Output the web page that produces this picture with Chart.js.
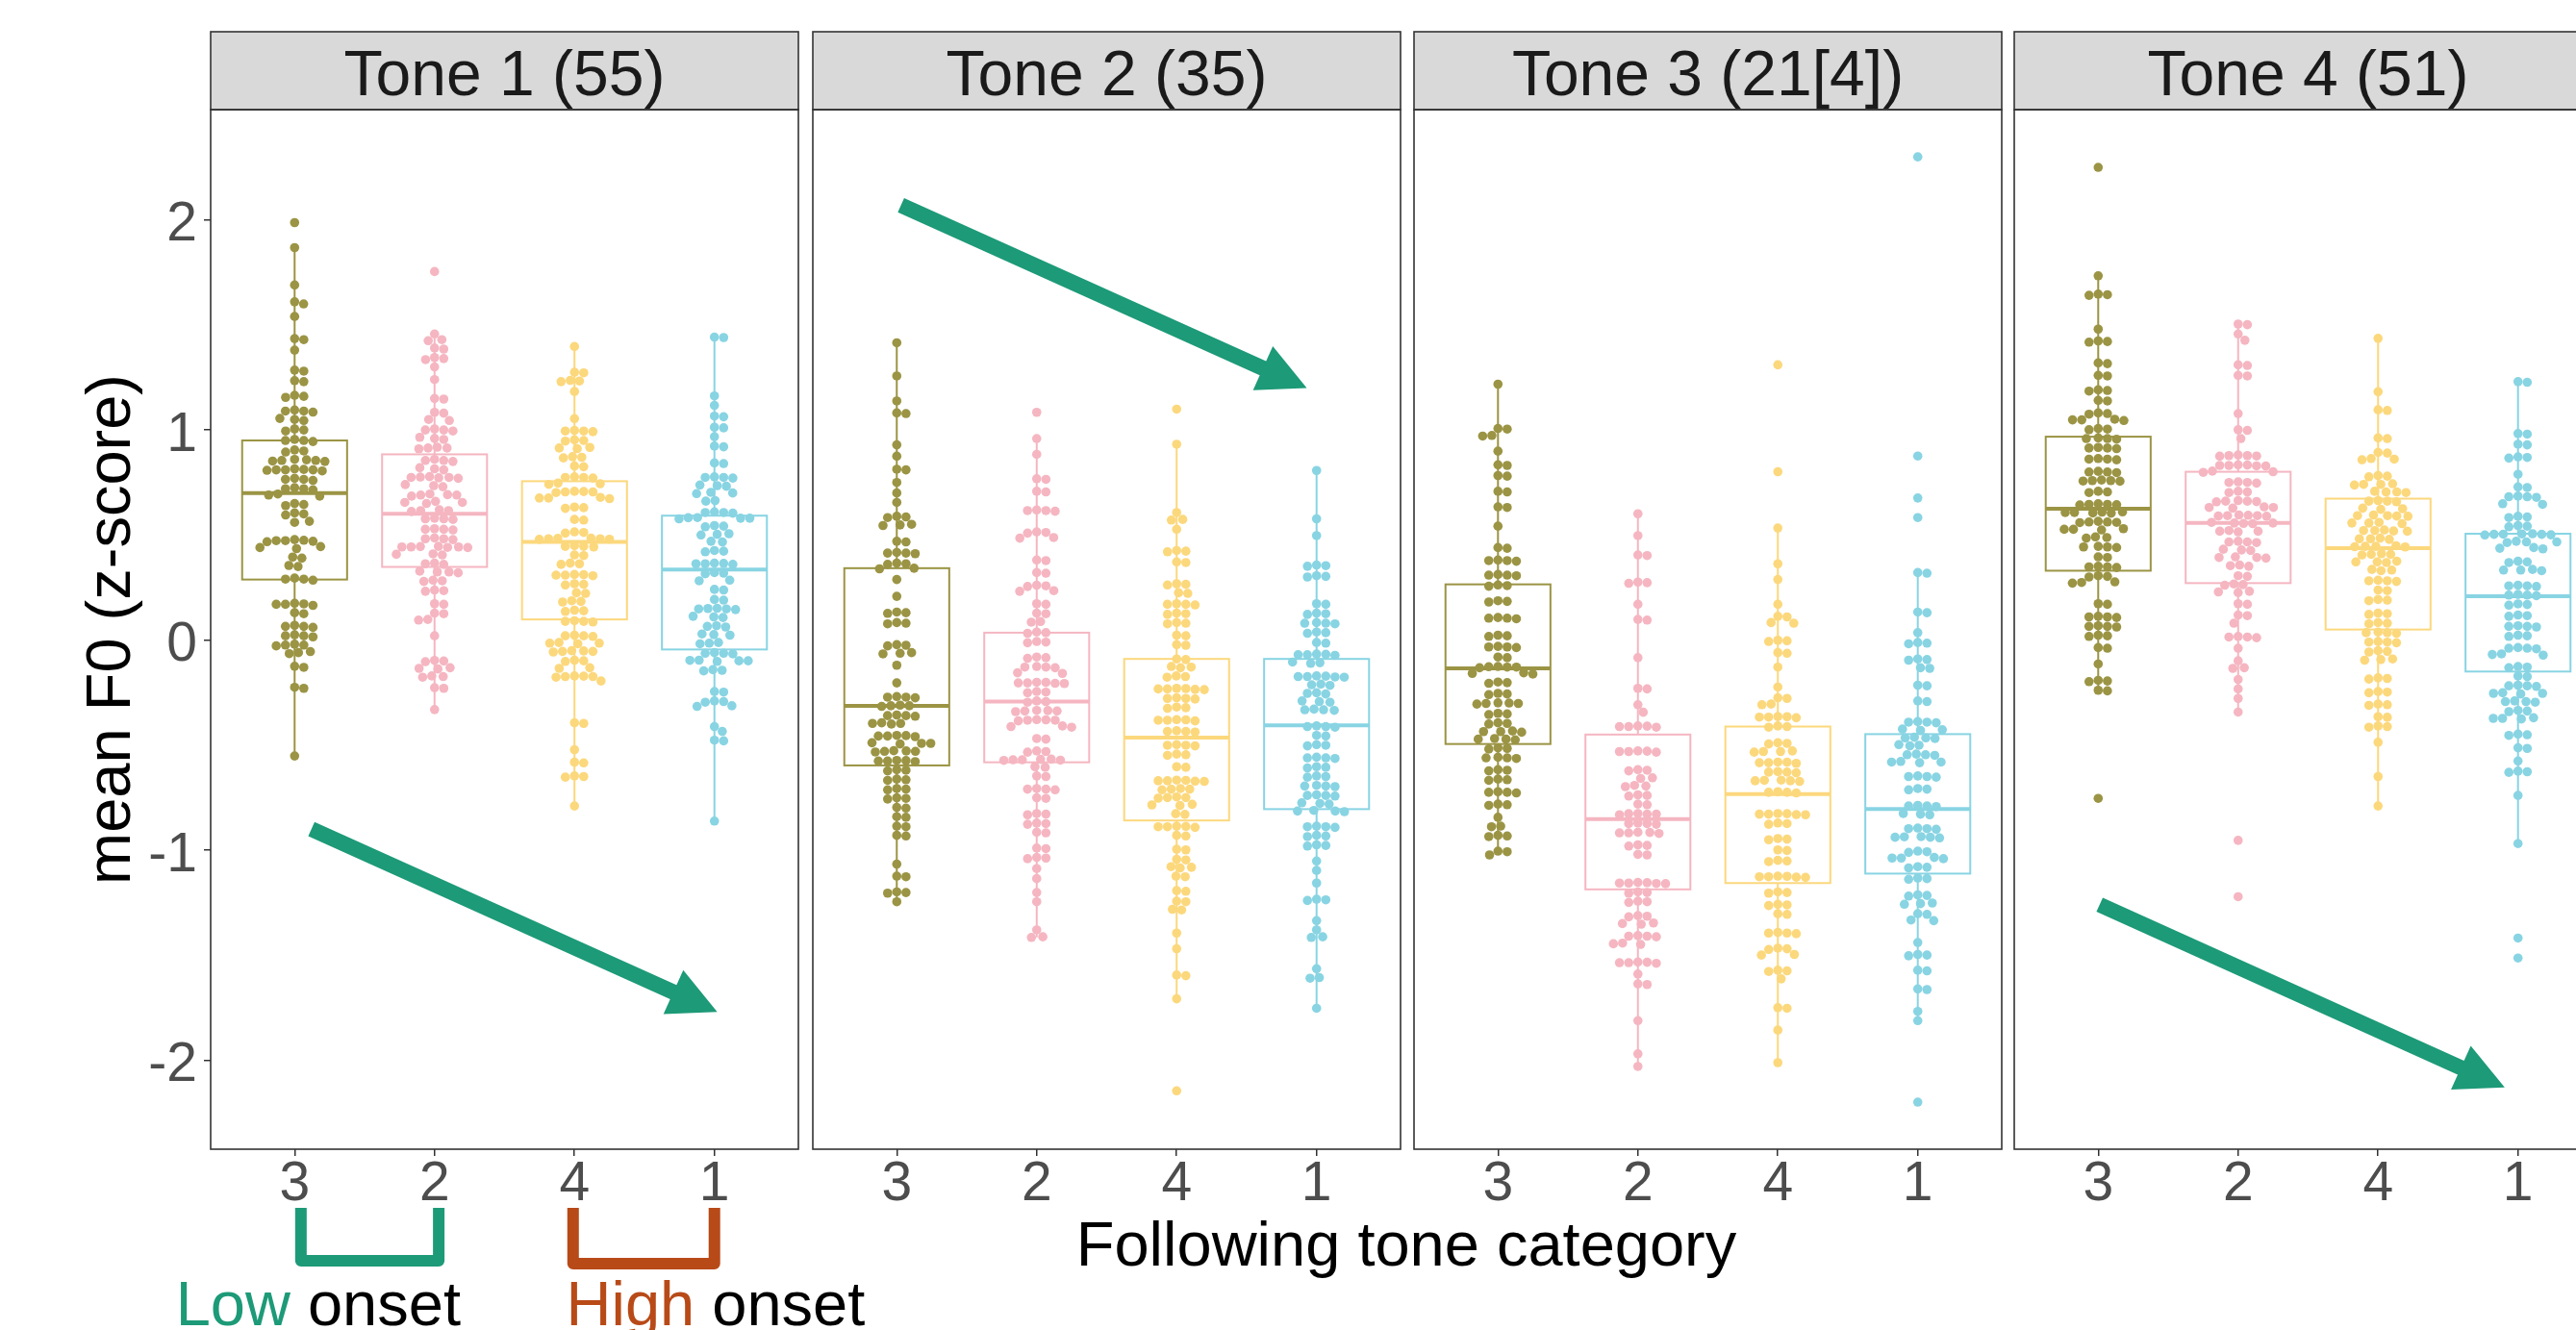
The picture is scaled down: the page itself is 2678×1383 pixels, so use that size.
<!DOCTYPE html>
<html><head><meta charset="utf-8">
<script src="https://cdn.jsdelivr.net/npm/chart.js@4/dist/chart.umd.min.js"></script>
<style>
html,body{margin:0;padding:0;background:#fff;overflow:hidden;width:2678px;height:1383px;}
#wrap{position:relative;width:2678px;height:1383px;overflow:hidden;background:#fff;}
#wrap canvas{position:absolute;left:0;top:0;}
</style></head><body><div id="wrap">
<canvas id="c0" width="2760" height="1383"></canvas>
<canvas id="c1" width="2760" height="1383"></canvas>
<canvas id="c2" width="2760" height="1383"></canvas>
<canvas id="c3" width="2760" height="1383"></canvas>
</div>
<script>
// ---------------- DATA ----------------
const followingTones = ['3', '2', '4', '1'];
const toneTitles = ['Tone 1 (55)', 'Tone 2 (35)', 'Tone 3 (21[4])', 'Tone 4 (51)'];
const yTicks = [-2, -1, 0, 1, 2];

// Tone 1 panel: mean F0 (z-score) by following tone 3, 2, 4, 1
const tone1_f3 = [1.987,1.868,1.69,1.60,1.61,1.54,1.43,1.435,1.38,1.28,1.285,1.23,1.235,1.16,1.165,1.155,1.09,1.095,1.085,1.09,1.05,1.055,1.045,1.00,1.005,0.995,0.95,0.955,0.945,0.95,0.90,0.905,0.895,0.855,0.86,0.85,0.855,0.858,0.852,0.81,0.815,0.805,0.81,0.812,0.808,0.81,0.765,0.77,0.76,0.765,0.72,0.725,0.715,0.72,0.69,0.695,0.685,0.645,0.65,0.64,0.60,0.605,0.595,0.56,0.565,0.473,0.478,0.468,0.473,0.475,0.47,0.44,0.445,0.435,0.39,0.395,0.35,0.355,0.29,0.295,0.285,0.29,0.17,0.175,0.165,0.17,0.172,0.125,0.13,0.065,0.07,0.06,0.065,0.02,0.025,0.015,0.02,-0.024,-0.02,-0.028,-0.024,-0.06,-0.055,-0.065,-0.13,-0.125,-0.23,-0.225,-0.552];
const tone1_f2 = [1.754,1.457,1.43,1.425,1.39,1.385,1.34,1.345,1.335,1.30,1.24,1.147,1.15,1.084,1.08,1.05,1.045,1.0,1.005,0.995,1.0,0.96,0.965,0.955,0.914,0.918,0.91,0.914,0.855,0.86,0.85,0.855,0.815,0.82,0.81,0.774,0.778,0.77,0.774,0.776,0.772,0.735,0.74,0.73,0.69,0.695,0.685,0.69,0.692,0.655,0.66,0.65,0.655,0.616,0.62,0.612,0.616,0.577,0.58,0.574,0.577,0.527,0.53,0.524,0.527,0.482,0.486,0.478,0.482,0.443,0.446,0.44,0.443,0.445,0.441,0.443,0.408,0.41,0.405,0.363,0.366,0.36,0.324,0.328,0.32,0.324,0.282,0.285,0.279,0.235,0.238,0.232,0.17,0.173,0.125,0.128,0.095,0.098,0.02,-0.10,-0.097,-0.103,-0.135,-0.132,-0.138,-0.174,-0.171,-0.177,-0.23,-0.227,-0.331];
const tone1_f4 = [1.397,1.272,1.275,1.233,1.236,1.23,1.183,1.054,0.995,0.998,0.992,0.995,0.95,0.953,0.947,0.914,0.917,0.911,0.87,0.873,0.867,0.825,0.828,0.774,0.777,0.771,0.774,0.744,0.747,0.741,0.705,0.708,0.702,0.705,0.707,0.676,0.679,0.673,0.676,0.63,0.633,0.627,0.571,0.574,0.512,0.515,0.509,0.482,0.485,0.479,0.482,0.484,0.48,0.446,0.449,0.443,0.446,0.402,0.405,0.363,0.366,0.36,0.309,0.312,0.306,0.309,0.311,0.265,0.268,0.262,0.222,0.225,0.184,0.187,0.181,0.139,0.142,0.136,0.089,0.092,0.086,0.089,0.02,0.023,0.017,0.02,-0.015,-0.012,-0.018,-0.015,-0.054,-0.051,-0.057,-0.054,-0.052,-0.099,-0.096,-0.102,-0.135,-0.132,-0.174,-0.171,-0.177,-0.174,-0.172,-0.195,-0.397,-0.394,-0.522,-0.585,-0.582,-0.65,-0.647,-0.653,-0.79];
const tone1_f1 = [1.442,1.44,1.162,1.117,1.063,1.066,1.01,1.013,0.968,0.92,0.923,0.84,0.843,0.774,0.777,0.771,0.774,0.735,0.738,0.732,0.70,0.703,0.697,0.661,0.664,0.607,0.61,0.604,0.607,0.58,0.583,0.577,0.58,0.582,0.542,0.545,0.539,0.503,0.506,0.5,0.467,0.47,0.423,0.426,0.42,0.363,0.366,0.36,0.363,0.365,0.318,0.321,0.315,0.282,0.285,0.238,0.241,0.19,0.193,0.148,0.151,0.145,0.148,0.15,0.11,0.113,0.107,0.065,0.068,0.062,0.026,0.029,0.023,-0.015,-0.012,-0.018,-0.063,-0.06,-0.066,-0.063,-0.099,-0.096,-0.102,-0.099,-0.097,-0.144,-0.141,-0.147,-0.248,-0.245,-0.293,-0.29,-0.296,-0.313,-0.316,-0.412,-0.435,-0.48,-0.477,-0.862];

// Tone 2 panel
const tone2_f3 = [1.415,1.257,1.138,1.078,1.081,0.929,0.875,0.81,0.813,0.75,0.70,0.655,0.586,0.589,0.583,0.548,0.551,0.545,0.467,0.47,0.414,0.417,0.411,0.414,0.363,0.366,0.36,0.342,0.339,0.288,0.208,0.13,0.133,0.127,0.08,0.083,0.077,-0.025,-0.022,-0.028,-0.063,-0.06,-0.066,-0.12,-0.204,-0.272,-0.269,-0.275,-0.272,-0.313,-0.31,-0.316,-0.313,-0.36,-0.357,-0.363,-0.36,-0.397,-0.394,-0.4,-0.397,-0.457,-0.454,-0.46,-0.457,-0.455,-0.492,-0.489,-0.495,-0.492,-0.53,-0.527,-0.533,-0.53,-0.528,-0.576,-0.573,-0.579,-0.576,-0.574,-0.62,-0.617,-0.623,-0.665,-0.662,-0.668,-0.71,-0.707,-0.713,-0.754,-0.751,-0.757,-0.80,-0.797,-0.844,-0.841,-0.889,-0.886,-0.933,-0.93,-1.067,-1.127,-1.124,-1.202,-1.199,-1.205,-1.246];
const tone2_f2 = [1.084,0.959,0.884,0.765,0.768,0.705,0.708,0.616,0.619,0.613,0.616,0.512,0.515,0.509,0.488,0.485,0.378,0.381,0.318,0.321,0.258,0.261,0.255,0.235,0.232,0.17,0.173,0.125,0.128,0.085,0.088,0.035,0.038,0.032,-0.01,-0.007,-0.013,-0.084,-0.081,-0.087,-0.129,-0.126,-0.132,-0.129,-0.159,-0.156,-0.204,-0.201,-0.207,-0.204,-0.202,-0.206,-0.248,-0.245,-0.251,-0.293,-0.29,-0.296,-0.338,-0.335,-0.341,-0.338,-0.336,-0.382,-0.379,-0.385,-0.382,-0.38,-0.412,-0.409,-0.415,-0.472,-0.469,-0.531,-0.528,-0.534,-0.57,-0.567,-0.573,-0.57,-0.568,-0.572,-0.606,-0.603,-0.65,-0.647,-0.71,-0.707,-0.713,-0.71,-0.754,-0.751,-0.829,-0.826,-0.832,-0.874,-0.871,-0.877,-0.918,-0.915,-0.993,-0.99,-1.038,-1.035,-1.041,-1.088,-1.136,-1.202,-1.246,-1.38,-1.416,-1.413];
const tone2_f4 = [1.099,0.932,0.607,0.571,0.574,0.527,0.423,0.426,0.42,0.369,0.372,0.265,0.268,0.262,0.222,0.225,0.17,0.173,0.167,0.17,0.125,0.128,0.122,0.08,0.083,0.077,0.02,0.023,-0.025,-0.022,-0.093,-0.09,-0.129,-0.126,-0.132,-0.174,-0.171,-0.177,-0.233,-0.23,-0.236,-0.233,-0.231,-0.235,-0.278,-0.275,-0.281,-0.278,-0.322,-0.319,-0.325,-0.382,-0.379,-0.385,-0.382,-0.38,-0.435,-0.432,-0.438,-0.435,-0.501,-0.498,-0.504,-0.501,-0.546,-0.543,-0.549,-0.606,-0.603,-0.67,-0.667,-0.673,-0.67,-0.668,-0.672,-0.71,-0.707,-0.713,-0.71,-0.75,-0.747,-0.753,-0.75,-0.785,-0.782,-0.788,-0.83,-0.827,-0.889,-0.886,-0.892,-0.889,-0.887,-0.933,-0.93,-0.999,-0.996,-1.047,-1.044,-1.082,-1.079,-1.085,-1.127,-1.124,-1.196,-1.193,-1.246,-1.243,-1.285,-1.282,-1.395,-1.47,-1.598,-1.595,-1.708,-2.146];
const tone2_f1 = [0.807,0.577,0.497,0.354,0.357,0.351,0.303,0.306,0.3,0.17,0.173,0.125,0.128,0.122,0.08,0.083,0.077,0.08,0.035,0.038,0.032,-0.015,-0.012,-0.07,-0.067,-0.073,-0.07,-0.068,-0.108,-0.105,-0.111,-0.174,-0.171,-0.177,-0.174,-0.172,-0.176,-0.213,-0.21,-0.216,-0.254,-0.251,-0.257,-0.293,-0.29,-0.296,-0.332,-0.329,-0.335,-0.332,-0.412,-0.409,-0.415,-0.412,-0.457,-0.454,-0.501,-0.498,-0.504,-0.561,-0.558,-0.564,-0.561,-0.606,-0.603,-0.609,-0.65,-0.647,-0.653,-0.695,-0.692,-0.698,-0.695,-0.74,-0.737,-0.743,-0.74,-0.778,-0.775,-0.781,-0.814,-0.811,-0.817,-0.814,-0.889,-0.886,-0.892,-0.889,-0.933,-0.93,-0.936,-0.978,-0.975,-0.981,-1.052,-1.097,-1.157,-1.237,-1.234,-1.24,-1.336,-1.38,-1.416,-1.413,-1.565,-1.61,-1.607,-1.753];

// Tone 3 panel
const tone3_f3 = [1.218,1.004,1.007,0.974,0.971,0.899,0.831,0.834,0.78,0.783,0.705,0.708,0.631,0.634,0.542,0.437,0.44,0.378,0.381,0.375,0.378,0.309,0.312,0.306,0.309,0.259,0.262,0.256,0.184,0.187,0.181,0.104,0.107,0.101,0.104,0.02,0.023,0.017,-0.033,-0.03,-0.036,-0.033,-0.084,-0.081,-0.129,-0.126,-0.132,-0.129,-0.127,-0.159,-0.156,-0.162,-0.203,-0.2,-0.206,-0.257,-0.254,-0.26,-0.302,-0.299,-0.305,-0.302,-0.3,-0.352,-0.349,-0.355,-0.397,-0.394,-0.4,-0.436,-0.433,-0.439,-0.436,-0.472,-0.469,-0.475,-0.472,-0.516,-0.513,-0.519,-0.561,-0.558,-0.564,-0.561,-0.62,-0.617,-0.623,-0.665,-0.662,-0.668,-0.725,-0.722,-0.728,-0.725,-0.784,-0.781,-0.787,-0.844,-0.889,-0.886,-0.933,-0.93,-0.936,-1.008,-1.005,-1.023];
const tone3_f2 = [0.601,0.497,0.402,0.405,0.273,0.276,0.27,0.17,0.095,0.098,-0.084,-0.233,-0.23,-0.308,-0.344,-0.412,-0.409,-0.415,-0.412,-0.41,-0.531,-0.528,-0.534,-0.531,-0.529,-0.62,-0.617,-0.623,-0.659,-0.656,-0.695,-0.692,-0.698,-0.74,-0.737,-0.743,-0.784,-0.781,-0.829,-0.826,-0.832,-0.829,-0.827,-0.874,-0.871,-0.877,-0.874,-0.918,-0.915,-0.921,-0.918,-0.916,-0.978,-0.975,-0.981,-1.023,-1.02,-1.157,-1.154,-1.16,-1.157,-1.155,-1.159,-1.202,-1.199,-1.205,-1.246,-1.243,-1.249,-1.315,-1.312,-1.318,-1.35,-1.347,-1.353,-1.41,-1.407,-1.413,-1.41,-1.446,-1.443,-1.449,-1.536,-1.533,-1.539,-1.536,-1.534,-1.59,-1.64,-1.637,-1.812,-1.97,-2.03];
const tone3_f4 = [1.31,0.801,0.533,0.363,0.288,0.17,0.11,0.113,0.08,0.083,-0.004,-0.001,-0.007,-0.063,-0.06,-0.129,-0.224,-0.278,-0.275,-0.308,-0.305,-0.367,-0.364,-0.37,-0.367,-0.365,-0.412,-0.409,-0.415,-0.492,-0.489,-0.495,-0.531,-0.528,-0.534,-0.531,-0.584,-0.581,-0.587,-0.584,-0.582,-0.629,-0.626,-0.632,-0.629,-0.67,-0.667,-0.673,-0.67,-0.668,-0.725,-0.722,-0.728,-0.725,-0.829,-0.826,-0.832,-0.829,-0.827,-0.831,-0.874,-0.871,-0.877,-0.948,-0.945,-0.951,-1.002,-0.999,-1.052,-1.049,-1.055,-1.127,-1.124,-1.13,-1.127,-1.125,-1.129,-1.202,-1.199,-1.205,-1.261,-1.258,-1.264,-1.306,-1.303,-1.395,-1.392,-1.398,-1.395,-1.47,-1.467,-1.473,-1.5,-1.497,-1.575,-1.572,-1.578,-1.613,-1.753,-1.75,-1.857,-2.012];
const tone3_f1 = [2.30,0.876,0.676,0.583,0.318,0.321,0.13,0.133,0.035,-0.015,-0.012,-0.018,-0.093,-0.09,-0.096,-0.135,-0.132,-0.218,-0.215,-0.293,-0.29,-0.391,-0.388,-0.394,-0.391,-0.427,-0.424,-0.43,-0.466,-0.463,-0.469,-0.466,-0.501,-0.498,-0.504,-0.546,-0.543,-0.549,-0.546,-0.581,-0.578,-0.584,-0.581,-0.65,-0.647,-0.653,-0.65,-0.71,-0.707,-0.713,-0.79,-0.787,-0.793,-0.79,-0.829,-0.826,-0.832,-0.898,-0.895,-0.901,-0.898,-0.939,-0.936,-0.942,-0.939,-0.937,-1.008,-1.005,-1.011,-1.038,-1.035,-1.041,-1.038,-1.082,-1.079,-1.085,-1.136,-1.133,-1.139,-1.216,-1.213,-1.219,-1.255,-1.252,-1.258,-1.306,-1.303,-1.336,-1.333,-1.44,-1.5,-1.497,-1.503,-1.575,-1.572,-1.664,-1.661,-1.768,-1.812,-2.2];

// Tone 4 panel
const tone4_f3 = [2.25,1.734,1.644,1.647,1.641,1.48,1.421,1.424,1.418,1.316,1.319,1.257,1.26,1.188,1.191,1.185,1.138,1.141,1.078,1.081,1.075,1.048,1.051,1.045,1.048,1.004,1.007,1.001,0.959,0.962,0.956,0.959,0.914,0.917,0.911,0.914,0.861,0.864,0.858,0.861,0.8,0.803,0.797,0.8,0.759,0.762,0.756,0.759,0.757,0.705,0.708,0.702,0.646,0.649,0.643,0.646,0.644,0.607,0.61,0.604,0.607,0.605,0.609,0.562,0.565,0.559,0.562,0.56,0.527,0.53,0.524,0.527,0.488,0.491,0.485,0.443,0.446,0.44,0.443,0.393,0.396,0.348,0.351,0.345,0.348,0.303,0.306,0.3,0.274,0.277,0.271,0.17,0.173,0.11,0.113,0.107,0.11,0.065,0.068,0.062,0.065,0.02,0.023,0.017,-0.039,-0.036,-0.114,-0.195,-0.192,-0.198,-0.242,-0.239,-0.754];
const tone4_f2 = [1.501,1.504,1.457,1.427,1.307,1.31,1.257,1.26,1.078,0.998,1.001,0.959,0.878,0.881,0.875,0.878,0.876,0.831,0.834,0.828,0.831,0.829,0.833,0.801,0.804,0.798,0.75,0.753,0.747,0.75,0.705,0.708,0.702,0.661,0.664,0.658,0.661,0.659,0.631,0.634,0.628,0.631,0.592,0.595,0.589,0.592,0.59,0.594,0.557,0.56,0.554,0.557,0.555,0.518,0.521,0.515,0.518,0.467,0.47,0.464,0.467,0.429,0.432,0.426,0.393,0.396,0.39,0.393,0.354,0.357,0.351,0.303,0.306,0.264,0.267,0.261,0.229,0.232,0.226,0.17,0.173,0.116,0.119,0.08,0.014,0.017,0.011,0.014,-0.039,-0.099,-0.135,-0.132,-0.188,-0.233,-0.278,-0.343,-0.954,-1.222];
const tone4_f4 = [1.436,1.182,1.093,1.096,0.959,0.962,0.89,0.893,0.861,0.864,0.858,0.78,0.783,0.777,0.741,0.744,0.738,0.741,0.705,0.708,0.702,0.705,0.661,0.664,0.658,0.661,0.625,0.628,0.622,0.592,0.595,0.589,0.592,0.59,0.557,0.56,0.554,0.557,0.521,0.524,0.518,0.521,0.519,0.482,0.485,0.479,0.482,0.446,0.449,0.443,0.446,0.444,0.408,0.411,0.405,0.408,0.372,0.375,0.369,0.372,0.333,0.336,0.33,0.282,0.285,0.279,0.282,0.235,0.238,0.19,0.193,0.187,0.125,0.128,0.122,0.08,0.083,0.077,0.035,0.038,0.032,0.035,-0.01,-0.007,-0.013,-0.01,-0.054,-0.051,-0.057,-0.093,-0.09,-0.096,-0.183,-0.18,-0.186,-0.248,-0.245,-0.251,-0.308,-0.305,-0.311,-0.368,-0.365,-0.412,-0.409,-0.415,-0.487,-0.65,-0.79];
const tone4_f1 = [1.227,1.23,0.98,0.983,0.929,0.932,0.869,0.872,0.866,0.789,0.726,0.729,0.682,0.685,0.679,0.682,0.646,0.649,0.586,0.589,0.583,0.542,0.545,0.539,0.503,0.506,0.5,0.503,0.501,0.505,0.504,0.467,0.47,0.464,0.467,0.437,0.44,0.434,0.372,0.375,0.369,0.333,0.336,0.33,0.333,0.258,0.261,0.255,0.258,0.214,0.217,0.211,0.214,0.169,0.172,0.166,0.116,0.119,0.113,0.065,0.068,0.062,0.065,0.02,0.023,0.017,-0.039,-0.036,-0.042,-0.039,-0.069,-0.066,-0.072,-0.129,-0.126,-0.132,-0.174,-0.171,-0.218,-0.215,-0.221,-0.218,-0.254,-0.251,-0.257,-0.254,-0.293,-0.29,-0.296,-0.293,-0.338,-0.335,-0.341,-0.373,-0.37,-0.376,-0.373,-0.451,-0.448,-0.454,-0.516,-0.513,-0.576,-0.627,-0.624,-0.63,-0.74,-0.969,-1.419,-1.514];

// Box statistics per following tone (3,2,4,1): [lower whisker, Q1, median, Q3, upper whisker]
const tone1Boxes = [[-0.552,0.288,0.700,0.950,1.868],[-0.331,0.348,0.601,0.884,1.457],[-0.790,0.098,0.467,0.756,1.397],[-0.862,-0.045,0.336,0.592,1.442]];
const tone2Boxes = [[-1.246,-0.597,-0.313,0.342,1.415],[-1.416,-0.582,-0.293,0.035,0.959],[-1.708,-0.859,-0.465,-0.090,0.932],[-1.753,-0.805,-0.406,-0.090,0.807]];
const tone3Boxes = [[-1.023,-0.495,-0.135,0.265,1.218],[-2.030,-1.187,-0.853,-0.450,0.601],[-2.012,-1.157,-0.734,-0.412,0.533],[-1.812,-1.112,-0.805,-0.448,0.318]];
const tone4Boxes = [[-0.242,0.330,0.625,0.968,1.734],[-0.343,0.271,0.557,0.801,1.501],[-0.790,0.050,0.437,0.673,1.436],[-0.969,-0.150,0.208,0.506,1.227]];

// Annotation arrows (data coordinates: x0, y0, x1, y1)
const arrowTone1 = [1.12, -0.90, 4.02, -1.77];
const arrowTone2 = [1.03, 2.07, 3.93, 1.20];
const arrowTone4 = [1.01, -1.26, 3.905, -2.13];

// ---------------- STYLE / LAYOUT ----------------
const seriesColors = ['#9b9444', '#f5b6c1', '#fcd87d', '#88d4e3'];
const ARROW_COLOR = '#1d9a78';
const LOW_COLOR = '#1d9a78';
const HIGH_COLOR = '#b84a18';
const FONT = "'Liberation Sans', Arial, Helvetica, sans-serif";
const CW = 2760, CH = 1383;
const PANEL_LEFT = [219, 845, 1470, 2094];
const PANEL_W = 611;
const PLOT_TOP = 114, PLOT_BOTTOM = 1195, STRIP_TOP = 33;
const XAXIS_H = 75;
const DOT_R = 4.8, DOT_SPACING = 9.6;
const BOX_HALF = 0.375;

const panelData = [
  [tone1_f3, tone1_f2, tone1_f4, tone1_f1],
  [tone2_f3, tone2_f2, tone2_f4, tone2_f1],
  [tone3_f3, tone3_f2, tone3_f4, tone3_f1],
  [tone4_f3, tone4_f2, tone4_f4, tone4_f1]
];
const panelBoxes = [tone1Boxes, tone2Boxes, tone3Boxes, tone4Boxes];
const panelArrows = [arrowTone1, arrowTone2, null, arrowTone4];

function swarm(ys, d) {
  const idx = ys.map((y, i) => i).sort((a, b) => ys[a] - ys[b]);
  const placed = [];
  const xs = new Array(ys.length).fill(0);
  for (const i of idx) {
    const y = ys[i];
    const near = placed.filter(p => Math.abs(p.y - y) < d);
    const cands = [0];
    for (const p of near) {
      const dx = Math.sqrt(d * d - (p.y - y) * (p.y - y));
      cands.push(p.x + dx, p.x - dx);
    }
    cands.sort((a, b) => Math.abs(a) - Math.abs(b));
    let x = 0;
    for (const c of cands) {
      if (near.every(p => (p.x - c) ** 2 + (p.y - y) ** 2 >= d * d - 1e-6)) { x = c; break; }
    }
    placed.push({x, y});
    xs[i] = x;
  }
  return xs;
}

function drawArrow(ctx, x0, y0, x1, y1, color) {
  const ang = Math.atan2(y1 - y0, x1 - x0);
  const HL = 50, HW = 25, LW = 16;
  const c = Math.cos(ang), s = Math.sin(ang);
  const bx = x1 - HL * c, by = y1 - HL * s;
  ctx.save();
  ctx.strokeStyle = color; ctx.fillStyle = color;
  ctx.lineWidth = LW; ctx.lineCap = 'butt';
  ctx.beginPath(); ctx.moveTo(x0, y0); ctx.lineTo(bx + 3 * c, by + 3 * s); ctx.stroke();
  ctx.beginPath();
  ctx.moveTo(x1, y1);
  ctx.lineTo(bx + HW * s, by - HW * c);
  ctx.lineTo(bx - HW * s, by + HW * c);
  ctx.closePath(); ctx.fill();
  ctx.restore();
}

const panelPlugin = {
  id: 'panelDeco',
  beforeDatasetsDraw(chart) {
    const i = chart.options.plugins.panelDeco.index;
    const {ctx, scales: {x, y}} = chart;
    ctx.save();
    panelBoxes[i].forEach((b, k) => {
      const cx = x.getPixelForValue(k + 1);
      const hw = x.getPixelForValue(k + 1 + BOX_HALF) - cx;
      const [lo, q1, med, q3, hi] = b.map(v => y.getPixelForValue(v));
      ctx.strokeStyle = seriesColors[k];
      ctx.lineWidth = 2;
      ctx.beginPath();
      ctx.moveTo(cx, q3); ctx.lineTo(cx, hi);
      ctx.moveTo(cx, q1); ctx.lineTo(cx, lo);
      ctx.stroke();
      ctx.fillStyle = '#ffffff';
      ctx.fillRect(cx - hw, q3, 2 * hw, q1 - q3);
      ctx.strokeRect(cx - hw, q3, 2 * hw, q1 - q3);
      ctx.lineWidth = 4;
      ctx.beginPath(); ctx.moveTo(cx - hw, med); ctx.lineTo(cx + hw, med); ctx.stroke();
    });
    ctx.restore();
  },
  afterDatasetsDraw(chart) {
    const i = chart.options.plugins.panelDeco.index;
    const {ctx, scales: {x, y}} = chart;
    const a = panelArrows[i];
    if (a) {
      drawArrow(ctx, x.getPixelForValue(a[0]), y.getPixelForValue(a[1]),
                x.getPixelForValue(a[2]), y.getPixelForValue(a[3]), ARROW_COLOR);
    }
  },
  afterDraw(chart) {
    const i = chart.options.plugins.panelDeco.index;
    const {ctx, chartArea: ar} = chart;
    ctx.save();
    // strip
    ctx.fillStyle = '#d9d9d9';
    ctx.fillRect(ar.left, STRIP_TOP, ar.right - ar.left, ar.top - STRIP_TOP);
    ctx.strokeStyle = '#333333'; ctx.lineWidth = 1.6;
    ctx.strokeRect(ar.left, STRIP_TOP, ar.right - ar.left, ar.top - STRIP_TOP);
    ctx.strokeRect(ar.left, ar.top, ar.right - ar.left, ar.bottom - ar.top);
    ctx.fillStyle = '#1a1a1a';
    ctx.font = '66px ' + FONT;
    ctx.textAlign = 'center'; ctx.textBaseline = 'alphabetic';
    ctx.fillText(toneTitles[i], (ar.left + ar.right) / 2, 99);
    if (i === 0) {
      const x = chart.scales.x;
      // shared x axis title
      ctx.fillStyle = '#000000';
      ctx.font = '65px ' + FONT;
      ctx.textAlign = 'center';
      ctx.fillText('Following tone category', (PANEL_LEFT[0] + PANEL_LEFT[3] + PANEL_W) / 2, ar.bottom + 121);
      // brackets
      const brackets = [[1.045, 2.03, LOW_COLOR], [2.99, 4.0, HIGH_COLOR]];
      brackets.forEach(([f, t, col], bi) => {
        const xa = x.getPixelForValue(f), xb = x.getPixelForValue(t);
        const top = ar.bottom + 61, bot = ar.bottom + 116 + bi * 3;
        ctx.strokeStyle = col; ctx.lineWidth = 12;
        ctx.lineJoin = 'round'; ctx.lineCap = 'butt';
        ctx.beginPath(); ctx.moveTo(xa, top); ctx.lineTo(xa, bot); ctx.lineTo(xb, bot); ctx.lineTo(xb, top); ctx.stroke();
      });
      // onset labels
      ctx.font = '65px ' + FONT;
      ctx.textAlign = 'left';
      const base = ar.bottom + 183;
      let lx = x.getPixelForValue(0.15);
      ctx.fillStyle = LOW_COLOR; ctx.fillText('Low', lx, base);
      lx += ctx.measureText('Low ').width;
      ctx.fillStyle = '#000000'; ctx.fillText('onset', lx, base);
      let hx = x.getPixelForValue(2.94);
      ctx.fillStyle = HIGH_COLOR; ctx.fillText('High', hx, base);
      hx += ctx.measureText('High ').width;
      ctx.fillStyle = '#000000'; ctx.fillText('onset', hx, base);
    }
    ctx.restore();
  }
};

const charts = [];
for (let i = 0; i < 4; i++) {
  const L = PANEL_LEFT[i];
  const datasets = panelData[i].map((vals, k) => ({
    type: 'scatter',
    data: vals.map(v => ({x: k + 1, y: v})),
    backgroundColor: seriesColors[k],
    borderWidth: 0,
    pointRadius: DOT_R,
    pointHoverRadius: DOT_R
  }));
  const tickFont = {family: FONT, size: 57, lineHeight: 1};
  const yScale = {
    type: 'linear', min: -2.424, max: 2.525,
    display: i === 0,
    afterBuildTicks: s => { s.ticks = yTicks.map(v => ({value: v})); },
    ticks: {font: tickFont, color: '#4d4d4d', padding: 7, labelOffset: 6, callback: v => String(v)},
    grid: {drawOnChartArea: false, drawTicks: true, tickLength: 7, color: '#333333', lineWidth: 1.5},
    border: {display: false},
    title: {display: true, text: 'mean F0 (z-score)', color: '#000000', font: {family: FONT, size: 65}, padding: {top: 78, bottom: 0}}
  };
  if (i === 0) yScale.afterFit = s => { s.width = PANEL_LEFT[0]; };
  const chart = new Chart(document.getElementById('c' + i), {
    type: 'scatter',
    data: {datasets},
    plugins: [panelPlugin],
    options: {
      responsive: false, animation: false, devicePixelRatio: 1, events: [],
      layout: {padding: {left: i === 0 ? 0 : L, right: CW - (L + PANEL_W), top: PLOT_TOP, bottom: CH - PLOT_BOTTOM - XAXIS_H}},
      plugins: {legend: {display: false}, tooltip: {enabled: false}, panelDeco: {index: i}},
      scales: {
        x: {
          type: 'linear', min: 0.4, max: 4.6,
          afterBuildTicks: s => { s.ticks = [1, 2, 3, 4].map(v => ({value: v})); },
          afterFit: s => { s.height = XAXIS_H; },
          ticks: {font: tickFont, color: '#4d4d4d', padding: 2, maxRotation: 0, autoSkip: false,
                  callback: v => followingTones[v - 1]},
          grid: {drawOnChartArea: false, drawTicks: true, tickLength: 7, color: '#333333', lineWidth: 1.5},
          border: {display: false}
        },
        y: yScale
      }
    }
  });
  // beeswarm layout of the points, computed in pixel space from the chart's own scales
  const xs = chart.scales.x, ys = chart.scales.y;
  const pxPerX = xs.getPixelForValue(1) - xs.getPixelForValue(0);
  chart.data.datasets.forEach((ds, k) => {
    const vals = panelData[i][k];
    const off = swarm(vals.map(v => ys.getPixelForValue(v)), DOT_SPACING);
    ds.data = vals.map((v, j) => ({x: k + 1 + off[j] / pxPerX, y: v}));
  });
  chart.update('none');
  charts.push(chart);
}
</script>
</body></html>
